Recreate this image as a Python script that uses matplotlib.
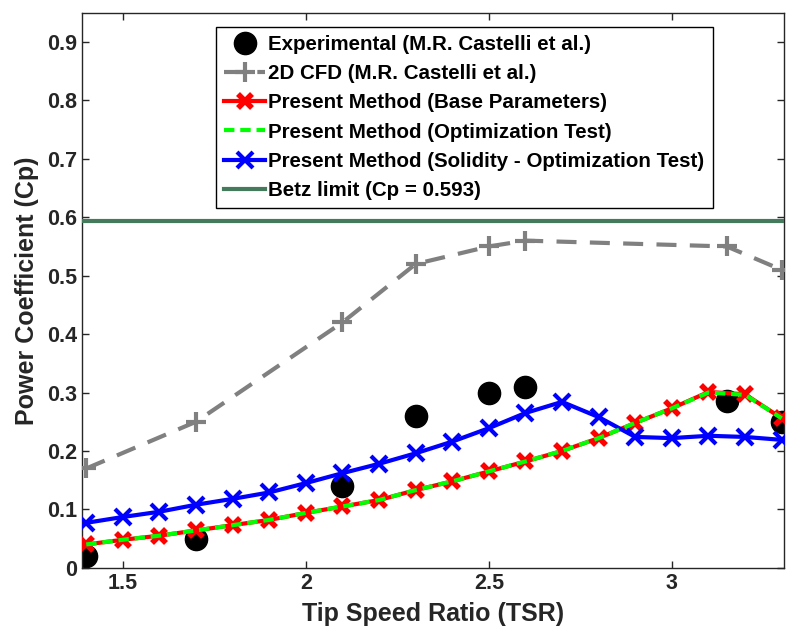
import numpy as np
import matplotlib
matplotlib.use("Agg")
import matplotlib.pyplot as plt

plt.rcParams['font.family'] = ['Liberation Sans', 'DejaVu Sans']
plt.rcParams['font.weight'] = 'bold'

# Experimental (M.R. Castelli et al.)
tsr_exp = [1.4, 1.7, 2.1, 2.3, 2.5, 2.6, 3.15, 3.3]
cp_exp = [0.02, 0.05, 0.14, 0.26, 0.30, 0.31, 0.285, 0.25]

# 2D CFD (M.R. Castelli et al.)
tsr_cfd = [1.4, 1.7, 2.1, 2.3, 2.5, 2.6, 3.15, 3.3]
cp_cfd = [0.17, 0.25, 0.42, 0.52, 0.55, 0.56, 0.55, 0.51]

# Present method
tsr_pm = [1.4, 1.5, 1.6, 1.7, 1.8, 1.9, 2.0, 2.1, 2.2, 2.3,
          2.4, 2.5, 2.6, 2.7, 2.8, 2.9, 3.0, 3.1, 3.2, 3.3]
cp_base = [0.040, 0.048, 0.055, 0.064, 0.073, 0.082, 0.094, 0.105, 0.116, 0.133,
           0.148, 0.165, 0.182, 0.200, 0.222, 0.248, 0.273, 0.301, 0.297, 0.256]
cp_opt = [0.040, 0.048, 0.055, 0.064, 0.073, 0.082, 0.094, 0.105, 0.116, 0.133,
          0.148, 0.165, 0.182, 0.200, 0.222, 0.248, 0.273, 0.300, 0.296, 0.256]
cp_sol = [0.077, 0.087, 0.096, 0.108, 0.118, 0.129, 0.145, 0.162, 0.178, 0.196,
          0.216, 0.239, 0.265, 0.284, 0.258, 0.224, 0.222, 0.226, 0.224, 0.219]

betz = 0.593

fig = plt.figure(figsize=(7.87, 6.38), dpi=100)
ax = fig.add_axes([0.104, 0.110, 0.892, 0.870])

ax.plot(tsr_exp, cp_exp, 'o', color='black', markersize=16, label='Experimental (M.R. Castelli et al.)', zorder=2)
ax.plot(tsr_cfd, cp_cfd, '--', color='#808080', lw=3, dashes=(4.8, 3.2), marker='+', markersize=15,
        markeredgewidth=3, label='2D CFD (M.R. Castelli et al.)', zorder=3)
ax.plot(tsr_pm, cp_base, '-', color='red', lw=3, marker='x', markersize=10,
        markeredgewidth=4, label='Present Method (Base Parameters)', zorder=4)
ax.plot(tsr_pm, cp_opt, '--', color='#00ff00', lw=3, dashes=(2.5, 1.4),
        label='Present Method (Optimization Test)', zorder=5)
ax.plot(tsr_pm, cp_sol, '-', color='blue', lw=3, marker='x', markersize=12,
        markeredgewidth=3, label='Present Method (Solidity - Optimization Test)', zorder=4)
ax.axhline(betz, color='#467a5c', lw=3, label='Betz limit (Cp = 0.593)', zorder=6)

ax.set_xlim(1.388, 3.306)
ax.set_ylim(0, 0.95)
ax.set_xticks([1.5, 2, 2.5, 3])
ax.set_xticklabels(['1.5', '2', '2.5', '3'])
ax.set_yticks([0, 0.1, 0.2, 0.3, 0.4, 0.5, 0.6, 0.7, 0.8, 0.9])
ax.set_yticklabels(['0', '0.1', '0.2', '0.3', '0.4', '0.5', '0.6', '0.7', '0.8', '0.9'])
ax.tick_params(direction='in', top=True, right=True, labelsize=15.5, colors='#262626',
               length=5, width=1)
for s in ax.spines.values():
    s.set_color('#262626')
    s.set_linewidth(1)
for lab in ax.get_xticklabels() + ax.get_yticklabels():
    lab.set_fontweight('bold')

ax.set_xlabel('Tip Speed Ratio (TSR)', fontsize=18, fontweight='bold', color='#262626', labelpad=6)
ax.set_ylabel('Power Coefficient (Cp)', fontsize=18, fontweight='bold', color='#262626', labelpad=6)

leg = ax.legend(loc='upper left', bbox_to_anchor=(0.191, 0.975), fontsize=14.8, frameon=True,
                fancybox=False, edgecolor='black', framealpha=1, borderpad=0.4,
                handlelength=2.0, handletextpad=0.15, labelspacing=0.5, borderaxespad=0)
leg.get_frame().set_linewidth(1)
for t in leg.get_texts():
    t.set_fontweight('bold')

fig.savefig('out.png', dpi=100)
